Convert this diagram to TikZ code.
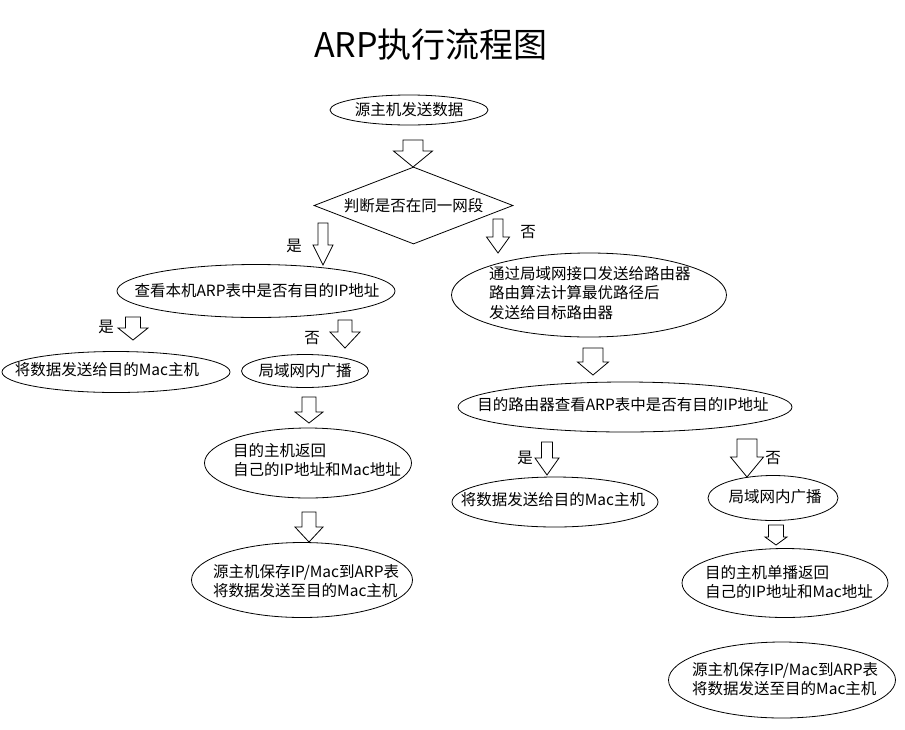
\documentclass[tikz,border=0pt]{standalone}
\usepackage{fontspec}
\setmainfont{Noto Sans CJK SC}
\usetikzlibrary{shapes.geometric}
\newcommand\fsz{\fontsize{15.5}{19.5}\selectfont}
\tikzset{
  ell/.style={draw, ellipse, line width=0.8pt, inner sep=0pt},
  txt/.style={inner sep=0pt, font=\fsz, align=left},
  lbl/.style={inner sep=0pt, font=\fsz},
  dia/.style={draw, diamond, line width=0.8pt, inner sep=0pt},
  blkarrow/.style={draw, line width=0.8pt, fill=white, line join=miter}
}
% name, cx, top, head start, tip, shaft half width, head half width
\newcommand\blk[7]{%
  \draw[blkarrow] (#2-#6,#3) -- (#2+#6,#3) -- (#2+#6,#4) -- (#2+#7,#4)
    -- (#2,#5) coordinate (#1) -- (#2-#7,#4) -- (#2-#6,#4) -- cycle;}
\begin{document}
\begin{tikzpicture}[x=1pt,y=-1pt]
\useasboundingbox (0,0) rectangle (905,729);
\fill[white] (0,0) rectangle (905,729);

% title
\node[inner sep=0pt, font=\fontsize{34}{40}\selectfont] (title) at (431,45) {ARP执行流程图};

% shapes
\node[ell, minimum width=158pt, minimum height=30pt] (e1) at (409,110) {};
\node[txt] (t1) at (e1) {源主机发送数据};

\node[dia, minimum width=199pt, minimum height=77pt] (d) at (413.5,205.5) {};
\node[txt] (td) at (d) {判断是否在同一网段};

\node[ell, minimum width=278pt, minimum height=53pt] (e2) at (256,291) {};
\node[txt] (t2) at (257,291) {查看本机ARP表中是否有目的IP地址};

\node[ell, minimum width=275pt, minimum height=84pt] (e3) at (589,295) {};
\node[txt, anchor=west] (t3) at (489,293) {通过局域网接口发送给路由器\\路由算法计算最优路径后\\发送给目标路由器};

\node[ell, minimum width=228pt, minimum height=41pt] (e4) at (116,372) {};
\node[txt] (t4) at (107,370) {将数据发送给目的Mac主机};

\node[ell, minimum width=127pt, minimum height=33pt] (e5) at (305,371) {};
\node[txt] (t5) at (e5) {局域网内广播};

\node[ell, minimum width=207pt, minimum height=70pt] (e6) at (308,463) {};
\node[txt, anchor=west] (t6) at (233,460) {目的主机返回\\自己的IP地址和Mac地址};

\node[ell, minimum width=221pt, minimum height=75pt] (e7) at (302,580) {};
\node[txt, anchor=west] (t7) at (213,581) {源主机保存IP/Mac到ARP表\\将数据发送至目的Mac主机};

\node[ell, minimum width=334pt, minimum height=50pt] (e8) at (625,407) {};
\node[txt] (t8) at (623,405) {目的路由器查看ARP表中是否有目的IP地址};

\node[ell, minimum width=206pt, minimum height=50pt] (e9) at (555,502) {};
\node[txt] (t9) at (553,500) {将数据发送给目的Mac主机};

\node[ell, minimum width=130pt, minimum height=45pt] (e10) at (773,498) {};
\node[txt] (t10) at (775,497) {局域网内广播};

\node[ell, minimum width=206pt, minimum height=69pt] (e11) at (785,583) {};
\node[txt, anchor=west] (t11) at (705,582) {目的主机单播返回\\自己的IP地址和Mac地址};

\node[ell, minimum width=227pt, minimum height=76pt] (e12) at (782,680) {};
\node[txt, anchor=west] (t12) at (692,679) {源主机保存IP/Mac到ARP表\\将数据发送至目的Mac主机};

% block arrows
\blk{a1}{413}{140}{151}{167}{10}{19.5}
\blk{a2}{323}{223}{245}{265}{5}{10}
\blk{a3}{498}{219}{237}{253}{5}{11.5}
\blk{a4}{133}{317}{328}{340}{7.5}{15}
\blk{a5}{345}{320}{332}{348}{7}{15}
\blk{a6}{309}{397}{412}{423}{7}{14}
\blk{a7}{309}{512}{527}{542}{7}{14}
\blk{a8}{593}{348}{362}{375}{10}{15.5}
\blk{a9}{547}{442}{458}{475}{5.5}{12}
\blk{a10}{747}{439}{457}{477}{10}{16.5}
\blk{a11}{776}{525}{537}{545}{7.5}{11}

% labels
\node[lbl] (l1) at (294,246) {是};
\node[lbl] (l2) at (528,232) {否};
\node[lbl] (l3) at (106,327) {是};
\node[lbl] (l4) at (312,338) {否};
\node[lbl] (l5) at (525,458) {是};
\node[lbl] (l6) at (773,458) {否};
\end{tikzpicture}
\end{document}
